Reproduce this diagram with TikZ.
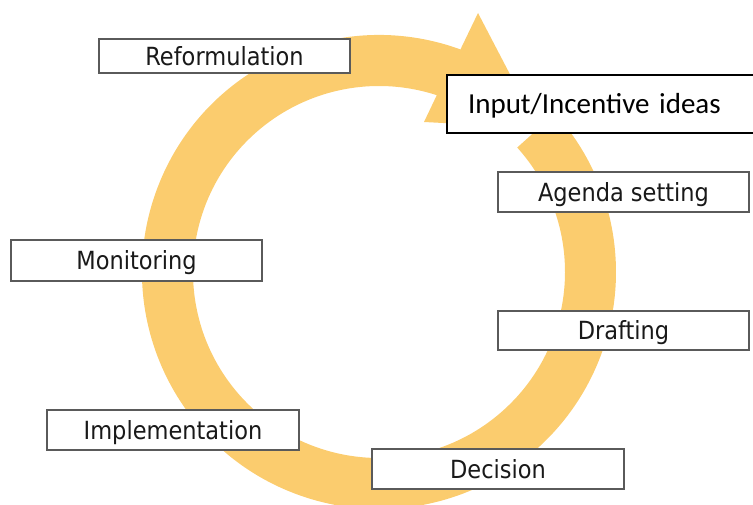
\documentclass[tikz,border=0pt]{standalone}
\usepackage{fontspec}
\setmainfont{DejaVu Sans}
\newfontfamily\calib{Carlito}
\newfontfamily\narrowfont[FakeStretch=0.9]{DejaVu Sans}
\usetikzlibrary{calc}
\definecolor{ringcol}{RGB}{251,204,110}
\definecolor{boxline}{RGB}{90,90,90}
\tikzset{
  stage/.style={draw=boxline, line width=1.3pt, fill=white, inner sep=0pt,
    minimum width=251pt, minimum height=40pt, text depth=0pt, text=black!90,
    text height=18.2pt, font=\narrowfont\fontsize{25}{30}\selectfont},
  inputbox/.style={draw=black, line width=2pt, fill=white, anchor=west,
    inner xsep=21pt, inner ysep=0pt, minimum height=58pt, text width=300pt, align=left,
    text height=18.7pt, text depth=0pt, font=\calib\fontsize{29}{34}\selectfont}
}
\begin{document}
\begin{tikzpicture}[x=1pt,y=1pt]
\useasboundingbox (0,0) rectangle (753,504);
\clip (0,0) rectangle (753,504);
\coordinate (c) at (379,232);
\coordinate (owing) at (478,491);
\coordinate (tip) at (538,376);
\coordinate (iwing) at (424,382);
% ring with arrowhead
\fill[ringcol] ($(c)+(69.9:237pt)$) arc[start angle=69.9, end angle=402, radius=237pt]
  -- ($(c)+(42:186pt)$) arc[start angle=42, end angle=-288.1, radius=186pt]
  -- (iwing) -- (tip) -- (owing) -- cycle;
% boxes
\node[stage, minimum height=34pt] (reform) at (224.5,448) {Reformulation};
\node[inputbox] (input) at (446,400) {Input/Incentive ideas};
\node[stage] (agenda) at (623.5,312) {Agenda setting};
\node[stage, minimum height=39pt] (draft) at (623.5,173.5) {Drafting};
\node[stage, minimum height=41pt] (monitor) at (136.5,243.5) {Monitoring};
\node[stage, minimum width=252pt] (impl) at (173,74) {Implementation};
\node[stage, minimum width=252pt] (decis) at (498,35) {Decision};
\end{tikzpicture}
\end{document}
